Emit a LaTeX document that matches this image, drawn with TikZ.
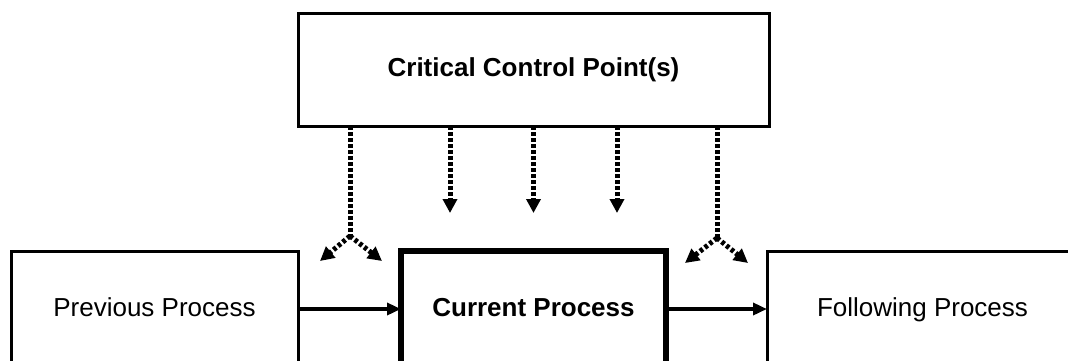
\documentclass[tikz,border=0pt]{standalone}
\usepackage{fontspec}
\setmainfont{Liberation Sans}
\usetikzlibrary{arrows.meta}
\begin{document}
\begin{tikzpicture}[x=1pt,y=-1pt,
  procbox/.style={draw,line width=3pt,inner sep=0pt,outer sep=0pt,
    text height=19pt,text depth=5pt,font=\fontsize{26}{30}\selectfont},
  boldbox/.style={procbox,font=\fontsize{26}{30}\selectfont\bfseries},
  mainbox/.style={boldbox,line width=6pt},
  flow/.style={line width=3.4pt,-{Triangle[length=14pt,width=12pt]}},
  ctrl/.style={line width=5pt,dash pattern=on 3.5pt off 2.5pt},
  ctrlarrow/.style={ctrl,-{Triangle[length=14pt,width=14pt]}}]
  \useasboundingbox (0,0) rectangle (1068,360);
  \begin{scope}
    \clip (0,0) rectangle (1068,360);
    % control point box
    \node[boldbox,minimum width=471pt,minimum height=113pt] (ccp) at (533.5,69.5) {Critical Control Point(s)};
    % process chain
    \node[procbox,minimum width=287pt,minimum height=116pt] (prev) at (154.5,309) {Previous Process};
    \node[mainbox,minimum width=265pt,minimum height=116pt] (cur) at (533.5,309) {Current Process};
    \node[procbox,minimum width=311pt,minimum height=116pt] (next) at (922.5,309) {Following Process};
    \draw[flow] (prev.east) -- (cur.west);
    \draw[flow] (cur.east) -- (next.west);
    % control actions
    \coordinate (j1) at (350,236);
    \coordinate (j1l) at (320,261);
    \coordinate (j1r) at (382,261);
    \coordinate (j2) at (717,238);
    \coordinate (j2l) at (685,263);
    \coordinate (j2r) at (748,263);
    \coordinate (c1) at (450,213);
    \coordinate (c2) at (533.5,213);
    \coordinate (c3) at (617,213);
    \draw[ctrl] (ccp.south -| j1) -- (j1);
    \draw[ctrlarrow] (j1) -- (j1l);
    \draw[ctrlarrow] (j1) -- (j1r);
    \draw[ctrl] (ccp.south -| j2) -- (j2);
    \draw[ctrlarrow] (j2) -- (j2l);
    \draw[ctrlarrow] (j2) -- (j2r);
    \draw[ctrlarrow] (ccp.south -| c1) -- (c1);
    \draw[ctrlarrow] (ccp.south -| c2) -- (c2);
    \draw[ctrlarrow] (ccp.south -| c3) -- (c3);
  \end{scope}
\end{tikzpicture}
\end{document}
